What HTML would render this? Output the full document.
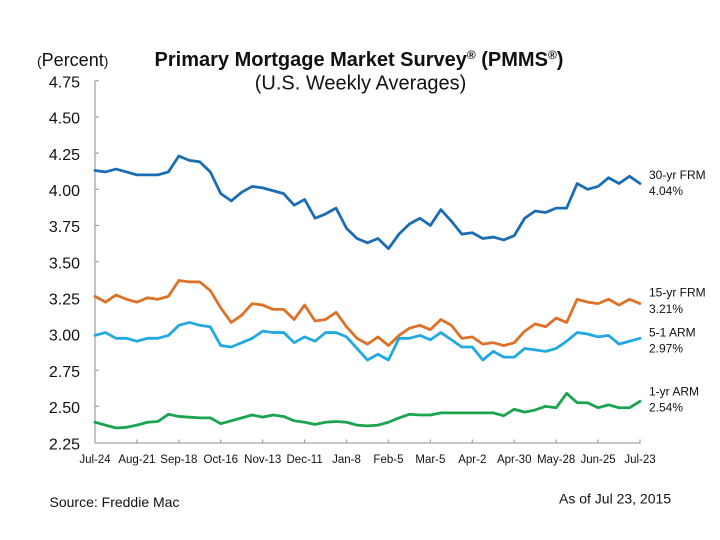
<!DOCTYPE html>
<html>
<head>
<meta charset="utf-8">
<style>
  html, body { margin: 0; padding: 0; background: #ffffff; }
  svg { display: block; }
  text { font-family: "Liberation Sans", Arial, sans-serif; fill: #111; }
</style>
</head>
<body>
<svg width="720" height="540" viewBox="0 0 720 540" xmlns="http://www.w3.org/2000/svg">
  <rect x="0" y="0" width="720" height="540" fill="#ffffff"/>

  <!-- Title -->
  <text x="359" y="66" text-anchor="middle" font-size="20" font-weight="bold">Primary Mortgage Market Survey<tspan font-size="12" dy="-7">®</tspan><tspan dy="7"> (PMMS</tspan><tspan font-size="12" dy="-7">®</tspan><tspan dy="7">)</tspan></text>
  <text x="360.5" y="89.5" text-anchor="middle" font-size="20">(U.S. Weekly Averages)</text>

  <!-- (Percent) -->
  <text x="37" y="66" font-size="18"><tspan font-size="14">(</tspan>Percent<tspan font-size="14">)</tspan></text>

  <!-- Axes -->
  <g stroke="#a6a6a6" stroke-width="1.3" fill="none">
    <line x1="95" y1="80.5" x2="95" y2="443"/>
    <line x1="95" y1="443" x2="640.5" y2="443"/>
    <!-- y ticks -->
    <line x1="95" y1="80.8" x2="99" y2="80.8"/>
    <line x1="95" y1="116.97" x2="99" y2="116.97"/>
    <line x1="95" y1="153.14" x2="99" y2="153.14"/>
    <line x1="95" y1="189.31" x2="99" y2="189.31"/>
    <line x1="95" y1="225.48" x2="99" y2="225.48"/>
    <line x1="95" y1="261.65" x2="99" y2="261.65"/>
    <line x1="95" y1="297.82" x2="99" y2="297.82"/>
    <line x1="95" y1="333.99" x2="99" y2="333.99"/>
    <line x1="95" y1="370.16" x2="99" y2="370.16"/>
    <line x1="95" y1="406.33" x2="99" y2="406.33"/>
    <!-- x ticks -->
    <line x1="136.92" y1="443" x2="136.92" y2="439.5"/>
    <line x1="178.85" y1="443" x2="178.85" y2="439.5"/>
    <line x1="220.77" y1="443" x2="220.77" y2="439.5"/>
    <line x1="262.69" y1="443" x2="262.69" y2="439.5"/>
    <line x1="304.62" y1="443" x2="304.62" y2="439.5"/>
    <line x1="346.54" y1="443" x2="346.54" y2="439.5"/>
    <line x1="388.46" y1="443" x2="388.46" y2="439.5"/>
    <line x1="430.38" y1="443" x2="430.38" y2="439.5"/>
    <line x1="472.31" y1="443" x2="472.31" y2="439.5"/>
    <line x1="514.23" y1="443" x2="514.23" y2="439.5"/>
    <line x1="556.15" y1="443" x2="556.15" y2="439.5"/>
    <line x1="598.08" y1="443" x2="598.08" y2="439.5"/>
    <line x1="640" y1="443" x2="640" y2="439.5"/>
  </g>

  <!-- Y tick labels -->
  <g font-size="16" text-anchor="end">
    <text x="80" y="87.5">4.75</text>
    <text x="80" y="123.7">4.50</text>
    <text x="80" y="159.8">4.25</text>
    <text x="80" y="196">4.00</text>
    <text x="80" y="232.2">3.75</text>
    <text x="80" y="268.4">3.50</text>
    <text x="80" y="304.5">3.25</text>
    <text x="80" y="340.7">3.00</text>
    <text x="80" y="376.9">2.75</text>
    <text x="80" y="413">2.50</text>
    <text x="80" y="449.5">2.25</text>
  </g>

  <!-- X tick labels -->
  <g font-size="11.5" text-anchor="middle">
    <text x="95" y="463">Jul-24</text>
    <text x="136.92" y="463">Aug-21</text>
    <text x="178.85" y="463">Sep-18</text>
    <text x="220.77" y="463">Oct-16</text>
    <text x="262.69" y="463">Nov-13</text>
    <text x="304.62" y="463">Dec-11</text>
    <text x="346.54" y="463">Jan-8</text>
    <text x="388.46" y="463">Feb-5</text>
    <text x="430.38" y="463">Mar-5</text>
    <text x="472.31" y="463">Apr-2</text>
    <text x="514.23" y="463">Apr-30</text>
    <text x="556.15" y="463">May-28</text>
    <text x="598.08" y="463">Jun-25</text>
    <text x="640" y="463">Jul-23</text>
  </g>

  <!-- Series -->
  <g transform="translate(95 442.5) scale(10.4808 -144.68) translate(0 -2.25)" fill="none" stroke-linejoin="round" stroke-linecap="round">
    <!-- 30-yr FRM -->
    <polyline vector-effect="non-scaling-stroke" stroke="#1b6db3" stroke-width="2.8"
      points="0,4.13 1,4.12 2,4.14 3,4.12 4,4.10 5,4.10 6,4.10 7,4.12 8,4.23 9,4.20 10,4.19 11,4.12 12,3.97 13,3.92 14,3.98 15,4.02 16,4.01 17,3.99 18,3.97 19,3.89 20,3.93 21,3.80 22,3.83 23,3.87 24,3.73 25,3.66 26,3.63 27,3.66 28,3.59 29,3.69 30,3.76 31,3.80 32,3.75 33,3.86 34,3.78 35,3.69 36,3.70 37,3.66 38,3.67 39,3.65 40,3.68 41,3.80 42,3.85 43,3.84 44,3.87 45,3.87 46,4.04 47,4.00 48,4.02 49,4.08 50,4.04 51,4.09 52,4.04"/>
    <!-- 15-yr FRM -->
    <polyline vector-effect="non-scaling-stroke" stroke="#dc7127" stroke-width="2.8"
      points="0,3.26 1,3.22 2,3.27 3,3.24 4,3.22 5,3.25 6,3.24 7,3.26 8,3.37 9,3.36 10,3.36 11,3.30 12,3.18 13,3.08 14,3.13 15,3.21 16,3.20 17,3.17 18,3.17 19,3.10 20,3.20 21,3.09 22,3.10 23,3.15 24,3.05 25,2.97 26,2.93 27,2.98 28,2.92 29,2.99 30,3.04 31,3.06 32,3.03 33,3.10 34,3.06 35,2.97 36,2.98 37,2.93 38,2.94 39,2.92 40,2.94 41,3.02 42,3.07 43,3.05 44,3.11 45,3.08 46,3.24 47,3.22 48,3.21 49,3.24 50,3.20 51,3.24 52,3.21"/>
    <!-- 5-1 ARM -->
    <polyline vector-effect="non-scaling-stroke" stroke="#22a9e1" stroke-width="2.8"
      points="0,2.99 1,3.01 2,2.97 3,2.97 4,2.95 5,2.97 6,2.97 7,2.99 8,3.06 9,3.08 10,3.06 11,3.05 12,2.92 13,2.91 14,2.94 15,2.97 16,3.02 17,3.01 18,3.01 19,2.94 20,2.98 21,2.95 22,3.01 23,3.01 24,2.98 25,2.90 26,2.82 27,2.86 28,2.82 29,2.97 30,2.97 31,2.99 32,2.96 33,3.01 34,2.96 35,2.91 36,2.91 37,2.82 38,2.88 39,2.84 40,2.84 41,2.90 42,2.89 43,2.88 44,2.90 45,2.95 46,3.01 47,3.00 48,2.98 49,2.99 50,2.93 51,2.95 52,2.97"/>
    <!-- 1-yr ARM -->
    <polyline vector-effect="non-scaling-stroke" stroke="#1ba44f" stroke-width="2.8"
      points="0,2.39 1,2.37 2,2.35 3,2.355 4,2.37 5,2.39 6,2.395 7,2.445 8,2.43 9,2.425 10,2.42 11,2.42 12,2.38 13,2.40 14,2.42 15,2.44 16,2.425 17,2.44 18,2.43 19,2.40 20,2.39 21,2.375 22,2.39 23,2.395 24,2.39 25,2.37 26,2.365 27,2.37 28,2.39 29,2.42 30,2.445 31,2.44 32,2.44 33,2.455 34,2.455 35,2.455 36,2.455 37,2.455 38,2.455 39,2.435 40,2.48 41,2.46 42,2.475 43,2.50 44,2.49 45,2.59 46,2.525 47,2.525 48,2.49 49,2.51 50,2.49 51,2.49 52,2.535"/>
  </g>

  <!-- Series labels -->
  <g font-size="12" fill="#222">
    <text x="649" y="179">30-yr FRM</text>
    <text x="649" y="195">4.04%</text>
    <text x="649" y="296.5">15-yr FRM</text>
    <text x="649" y="313">3.21%</text>
    <text x="649" y="336.5">5-1 ARM</text>
    <text x="649" y="352.5">2.97%</text>
    <text x="649" y="395.5">1-yr ARM</text>
    <text x="649" y="411.5">2.54%</text>
  </g>

  <!-- Footer -->
  <text x="49.5" y="507" font-size="14">Source: Freddie Mac</text>
  <text x="559" y="503.5" font-size="14">As of Jul 23, 2015</text>
</svg>
</body>
</html>
